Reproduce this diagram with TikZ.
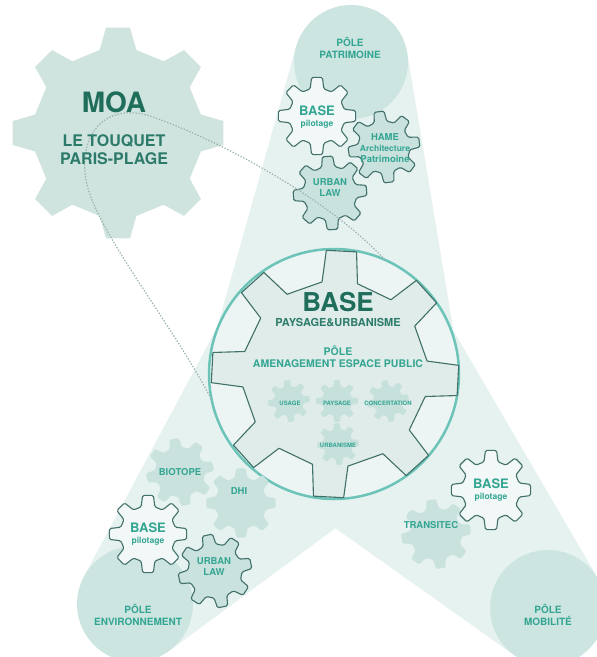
\documentclass[tikz,border=0pt]{standalone}
\usepackage{fontspec}
\setmainfont{TeX Gyre Heros}
\usetikzlibrary{backgrounds}

\definecolor{darkteal}{HTML}{1F6E5C}
\definecolor{midteal}{HTML}{2C7B6A}
\definecolor{tealtext}{HTML}{33A592}
\definecolor{cogedge}{HTML}{41706A}
\definecolor{conefill}{HTML}{E6F2F0}
\definecolor{polefill}{HTML}{CCE5E1}
\definecolor{moafill}{HTML}{CFE3DF}
\definecolor{cogfill}{HTML}{C9E2DE}
\definecolor{innerfill}{HTML}{C6E0DC}
\definecolor{ringline}{HTML}{6CC3B7}
\definecolor{ringfill}{HTML}{ECF5F3}
\definecolor{bigcogfill}{HTML}{DFECE9}
\definecolor{lightcog}{HTML}{F1F8F7}
\definecolor{dotgrey}{HTML}{9DB3B0}

% half widths of a tooth, in degrees
\newcommand{\cogtip}{8}
\newcommand{\cogbase}{14}
% gear: [style]{centre}{inner radius}{outer radius}{rotation}
\newcommand{\cogwheel}[5][]{%
  \begin{scope}[shift={(#2)}, rotate=#5]
    \path[#1] ({-\cogbase}:#3) -- ({-\cogtip}:#4) -- ({\cogtip}:#4) -- ({\cogbase}:#3)
      \foreach \a in {45,90,...,315} {
        -- ({\a-\cogbase}:#3) -- ({\a-\cogtip}:#4) -- ({\a+\cogtip}:#4) -- ({\a+\cogbase}:#3)
      } -- cycle;
  \end{scope}}

\tikzset{
  pole/.style={circle, fill=polefill, inner sep=0pt, outer sep=0pt},
  ring/.style={circle, draw=ringline, line width=2.5pt, fill=ringfill, inner sep=0pt, outer sep=0pt},
  bigcog/.style={draw=cogedge, line width=1.1pt, fill=bigcogfill, line join=round},
  outcog/.style={draw=cogedge, line width=1.1pt, fill=lightcog, rounded corners=1.5pt},
  midcog/.style={draw=cogedge, line width=1.1pt, fill=cogfill, rounded corners=1.5pt},
  flatcog/.style={fill=cogfill, rounded corners=1.5pt},
  innercog/.style={fill=innerfill, rounded corners=0.8pt},
  lasso/.style={draw=dotgrey, line width=1.2pt, dash pattern=on 1.4pt off 1.6pt},
  poletext/.style={text=tealtext, align=center, inner sep=0pt, font=\bfseries\fontsize{10}{12}\selectfont},
  cogtext/.style={text=tealtext, align=center, inner sep=0pt, font=\bfseries\fontsize{9.5}{11}\selectfont},
  tinytext/.style={text=tealtext, inner sep=0pt, font=\bfseries\fontsize{6}{7}\selectfont},
}

\begin{document}
\begin{tikzpicture}[x=1pt, y=-1pt]
  \useasboundingbox (0,0) rectangle (597,657);
  \clip (0,0) rectangle (597,657);

  % poles
  \node[pole, minimum size=114pt] (patri) at (351,62) {};
  \node[pole, minimum size=116pt] (envi) at (135,604) {};
  \node[pole, minimum size=116pt] (mobi) at (548,608) {};

  % moa
  {\renewcommand{\cogtip}{6.5}\renewcommand{\cogbase}{12.5}
   \cogwheel[fill=moafill]{118,133}{85}{106}{0}}

  % main ring and its gears
  \node[ring, minimum size=250pt] (mainc) at (334,374) {};
  {\renewcommand{\cogtip}{7}\renewcommand{\cogbase}{11}
   \cogwheel[bigcog]{335,374}{93}{124}{-3}}
  \cogwheel[innercog]{289,401}{15}{21}{6}
  \cogwheel[innercog]{337,401}{15}{21}{0}
  \cogwheel[innercog]{388,401}{15}{21}{10}
  \cogwheel[innercog]{338,444}{15}{21}{4}

  % cones
  \begin{scope}[on background layer]
    \fill[conefill] (patri.164) -- (mainc.164) -- (mainc.9) -- (patri.9) -- cycle;
    \fill[conefill] (mainc.152) -- (envi.152) -- (envi.306) -- (mainc.306) -- cycle;
    \fill[conefill] (mainc.235) -- (mobi.235) -- (mobi.30) -- (mainc.30) -- cycle;
  \end{scope}

  % partner gears
  \cogwheel[outcog]{317,116}{28}{39}{0}
  \cogwheel[midcog]{384,147}{26}{36}{8}
  \cogwheel[midcog]{330,193}{27}{37}{4}
  \cogwheel[flatcog]{180,472}{25}{34}{10}
  \cogwheel[flatcog]{241,503}{26}{35}{0}
  \cogwheel[outcog]{148,534}{28}{39}{0}
  \cogwheel[midcog]{215,571}{27}{37}{12}
  \cogwheel[outcog]{491,490}{29}{40}{0}
  \cogwheel[flatcog]{436,534}{26}{35}{8}

  % dotted link
  \draw[lasso] (mainc.66) .. controls (330,200) and (220,140) .. (150,116)
    .. controls (105,102) and (78,135) .. (86,180)
    .. controls (95,230) and (170,320) .. (mainc.192);

  % texts
  \node[text=darkteal, inner sep=0pt, font=\bfseries\fontsize{28}{30}\selectfont] (moa) at (114,102) {MOA};
  \node[text=midteal, align=center, inner sep=0pt, font=\bfseries\fontsize{16}{18}\selectfont] (moaname) at (114,150) {LE TOUQUET\\PARIS-PLAGE};
  \node[poletext] (patrilabel) at (350,48) {PÔLE\\PATRIMOINE};
  \node[poletext] (envilabel) at (138,615) {PÔLE\\ENVIRONNEMENT};
  \node[poletext] (mobilabel) at (548,615) {PÔLE\\MOBILITÉ};

  \node[text=darkteal, inner sep=0pt, font=\bfseries\fontsize{26}{28}\selectfont] (basebig) at (338,302) {BASE};
  \node[text=midteal, inner sep=0pt, font=\bfseries\fontsize{11}{12}\selectfont] (basesub) at (338,322.5) {PAYSAGE\&URBANISME};
  \node[text=tealtext, align=center, inner sep=0pt, font=\bfseries\fontsize{10.5}{12}\selectfont] (amenag) at (338,357) {PÔLE\\AMENAGEMENT ESPACE PUBLIC};
  \node[tinytext] (usage) at (290,403) {USAGE};
  \node[tinytext] (paysage) at (337,403) {PAYSAGE};
  \node[tinytext] (concert) at (388,403) {CONCERTATION};
  \node[tinytext] (urbanisme) at (338,445) {URBANISME};

  \node[cogtext] (patribase) at (317,117) {\fontsize{13}{13}\selectfont BASE\\\fontsize{8.5}{12}\selectfont pilotage};
  \node[cogtext] (hame) at (385,148) {HAME\\\fontsize{8.5}{11}\selectfont Architecture\\Patrimoine};
  \node[cogtext] (patrilaw) at (330,188) {URBAN\\LAW};
  \node[cogtext] (biotope) at (180,472) {BIOTOPE};
  \node[cogtext] (dhi) at (239,491) {DHI};
  \node[cogtext] (envibase) at (148,534) {\fontsize{13}{13}\selectfont BASE\\\fontsize{8.5}{12}\selectfont pilotage};
  \node[cogtext] (envilaw) at (214,567) {URBAN\\LAW};
  \node[cogtext] (mobibase) at (491,490) {\fontsize{13}{13}\selectfont BASE\\\fontsize{8.5}{12}\selectfont pilotage};
  \node[cogtext] (transitec) at (431,525) {TRANSITEC};
\end{tikzpicture}
\end{document}
